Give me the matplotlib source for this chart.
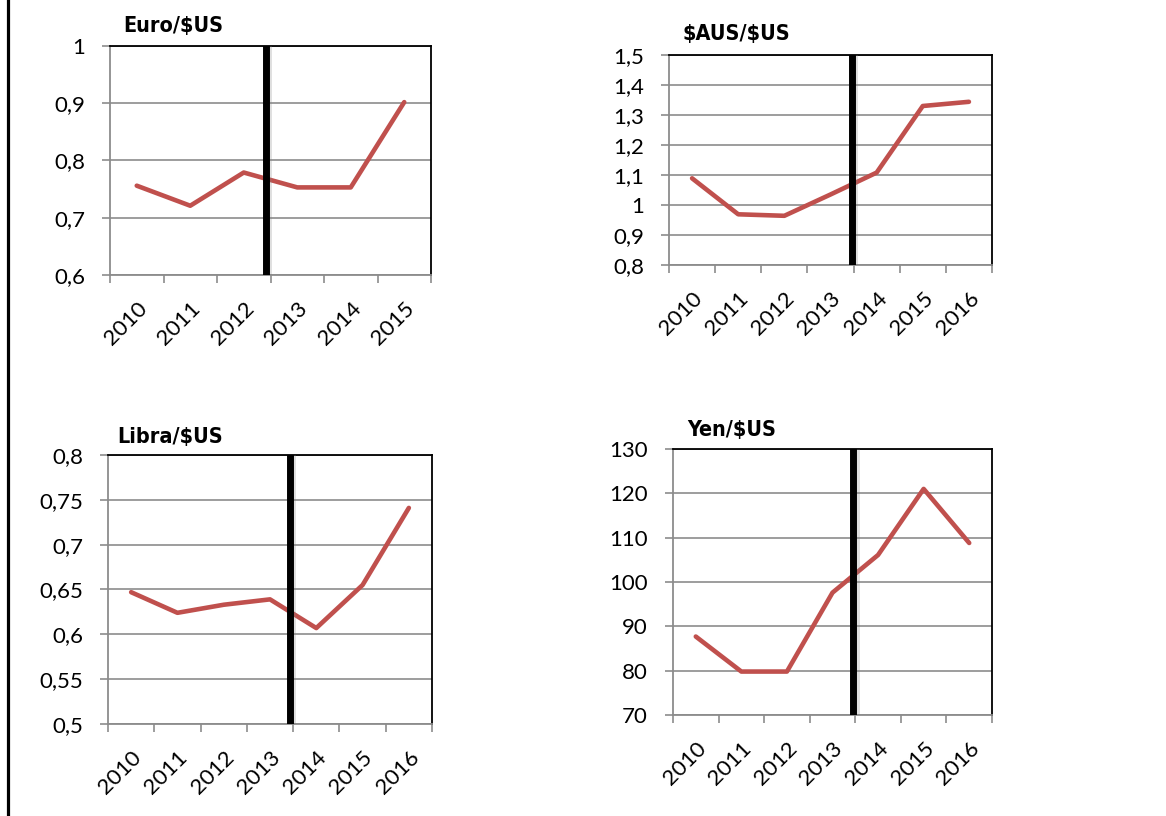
import matplotlib
matplotlib.use("Agg")
import numpy as np
import matplotlib.pyplot as plt
import matplotlib.patheffects as pe
from matplotlib.ticker import MultipleLocator, FuncFormatter
from matplotlib.lines import Line2D

# exchange rates, yearly averages
years_euro = ["2010", "2011", "2012", "2013", "2014", "2015"]
years_all  = ["2010", "2011", "2012", "2013", "2014", "2015", "2016"]

euro  = [0.756, 0.721, 0.779, 0.753, 0.753, 0.902]
aus   = [1.089, 0.969, 0.964, 1.035, 1.108, 1.330, 1.344]
libra = [0.647, 0.624, 0.633, 0.639, 0.607, 0.655, 0.741]
yen   = [87.7, 79.8, 79.8, 97.6, 106.1, 121.0, 108.8]

# where the break line sits (category index)
cut_euro, cut_aus, cut_libra, cut_yen = 2.42, 3.47, 3.43, 3.46

W, H = 1166, 816
GRID = "#8c8c8c"
RED  = "#c0504d"

plt.rcParams["font.family"] = ["Lato", "DejaVu Sans"]

fig = plt.figure(figsize=(W / 100, H / 100), dpi=100)
fig.patch.set_facecolor("white")


def comma(v, pos):
	return ("%g" % round(v, 4)).replace(".", ",")


def panel(box, title, toff, labels, values, lo, hi, step, cut):
	l, t, r, b = box
	ax = fig.add_axes([l / W, 1 - b / H, (r - l) / W, (b - t) / H])
	n = len(labels)
	x = np.arange(n)
	ax.set_xlim(-0.5, n - 0.5)
	ax.set_ylim(lo, hi)

	ax.yaxis.set_major_locator(MultipleLocator(step))
	ax.yaxis.set_major_formatter(FuncFormatter(comma))
	ax.grid(axis="y", color=GRID, lw=1.2)
	ax.set_axisbelow(True)

	ax.plot(x, values, color=RED, lw=3.3, solid_capstyle="round",
			solid_joinstyle="round", zorder=3)
	ax.axvline(cut, color="black", lw=5, zorder=4,
			   path_effects=[pe.SimpleLineShadow(offset=(1.5, 0), shadow_color="gray", alpha=0.25),
							 pe.Normal()])

	ax.set_xticks(x)
	ax.set_xticklabels(labels, rotation=45, ha="right", va="top",
					   rotation_mode="anchor", fontsize=16)
	ax.set_xticks(np.arange(-0.5, n), minor=True)
	ax.tick_params(axis="x", which="major", length=0, pad=17)
	ax.tick_params(axis="x", which="minor", length=6, width=1.2, color=GRID)
	ax.tick_params(axis="y", length=6, width=1.2, color=GRID, pad=12, labelsize=16)

	for side in ("top", "right"):
		ax.spines[side].set_color("black")
		ax.spines[side].set_linewidth(1.3)
	for side in ("left", "bottom"):
		ax.spines[side].set_color(GRID)
		ax.spines[side].set_linewidth(1.3)

	ax.annotate(title, xy=(0, 1), xycoords="axes fraction", xytext=toff,
				textcoords="offset pixels", va="center", ha="left",
				fontsize=15.5, fontweight="bold", fontstretch="condensed",
				family="DejaVu Sans")
	return ax


panel((110, 46, 431, 275), r"Euro/\$US", (13, 20), years_euro, euro, 0.6, 1.0, 0.1, cut_euro)
panel((669, 55, 992, 265), r"\$AUS/\$US", (13, 21), years_all, aus, 0.8, 1.5, 0.1, cut_aus)
panel((108, 455, 432, 724), r"Libra/\$US", (9, 18), years_all, libra, 0.5, 0.8, 0.05, cut_libra)
panel((673, 449, 992, 715), r"Yen/\$US", (14, 19), years_all, yen, 70, 130, 10, cut_yen)

# frame line on the left edge
fig.add_artist(Line2D([7.5 / W, 7.5 / W], [0, 1], color="black", lw=2.3))

fig.savefig("out.png", dpi=100, facecolor="white")
